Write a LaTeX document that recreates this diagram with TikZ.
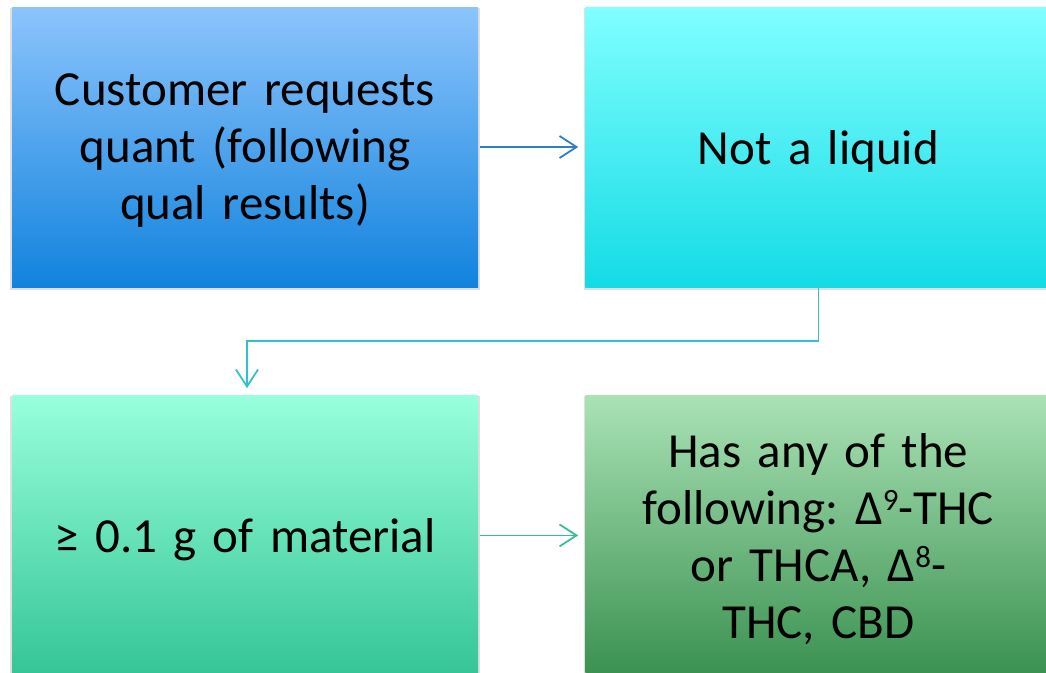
\documentclass[tikz,border=0pt]{standalone}
\usepackage{fontspec}
\setmainfont{Carlito}
\usepackage{xcolor}
\usepackage{tikz}
\usetikzlibrary{shapes,arrows,arrows.meta,positioning,shadows}
\frenchspacing

\definecolor{bluetop}{HTML}{8CC4FC}
\definecolor{bluebot}{HTML}{1183DD}
\definecolor{cyantop}{HTML}{80FFFF}
\definecolor{cyanbot}{HTML}{14DBE5}
\definecolor{minttop}{HTML}{98FFDC}
\definecolor{mintbot}{HTML}{34C596}
\definecolor{greentop}{HTML}{AAE2B6}
\definecolor{greenbot}{HTML}{3A9150}

\newcommand{\supnum}[1]{\raisebox{0.3em}{\fontsize{31}{31}\selectfont #1}}
\newcommand{\lowerby}{\endgraf\vspace*{-8pt}}

\begin{document}
\begin{tikzpicture}[
    node distance=108pt and 107pt,
    stepbox/.style={rectangle, minimum width=466pt, minimum height=280pt, inner sep=0pt,
        text width=450pt, align=center, font=\fontsize{49}{57}\selectfont,
        execute at end node=\lowerby,
        drop shadow={shadow xshift=0pt, shadow yshift=-2pt, opacity=0.25, shadow scale=1.008}},
    arrow/.style={line width=1.8pt, -{Straight Barb[length=17pt,width=22pt,line width=1.8pt]},
        shorten <=2pt, shorten >=7pt}
]
    \clip (0,0) rectangle (1046pt,-672pt);

    % Row 1
    \node [stepbox, top color=bluetop, bottom color=bluebot] at (245pt,-147pt) (request) {Customer requests\\quant (following\\qual results)};
    \node [stepbox, top color=cyantop, bottom color=cyanbot, right=of request] (notliquid) {Not a liquid};
    \draw [arrow, color={rgb,255:red,47;green,127;blue,196}] (request) -- (notliquid);

    % Row 2
    \node [stepbox, top color=minttop, bottom color=mintbot, below=of request] (material) {≥ 0.1 g of material};
    \node [stepbox, top color=greentop, bottom color=greenbot, right=of material] (compounds) {Has any of the\\following: Δ\supnum{9}-THC\\or THCA, Δ\supnum{8}-\\THC, CBD};
    \draw [arrow, color={rgb,255:red,56;green,190;blue,150}] (material) -- (compounds);

    % Row 1 to Row 2
    \draw [arrow, shorten <=0pt, color={rgb,255:red,46;green,195;blue,204}] (notliquid.south) -- ++(0,-54pt) -| ([xshift=2pt]material.north);
\end{tikzpicture}
\end{document}
